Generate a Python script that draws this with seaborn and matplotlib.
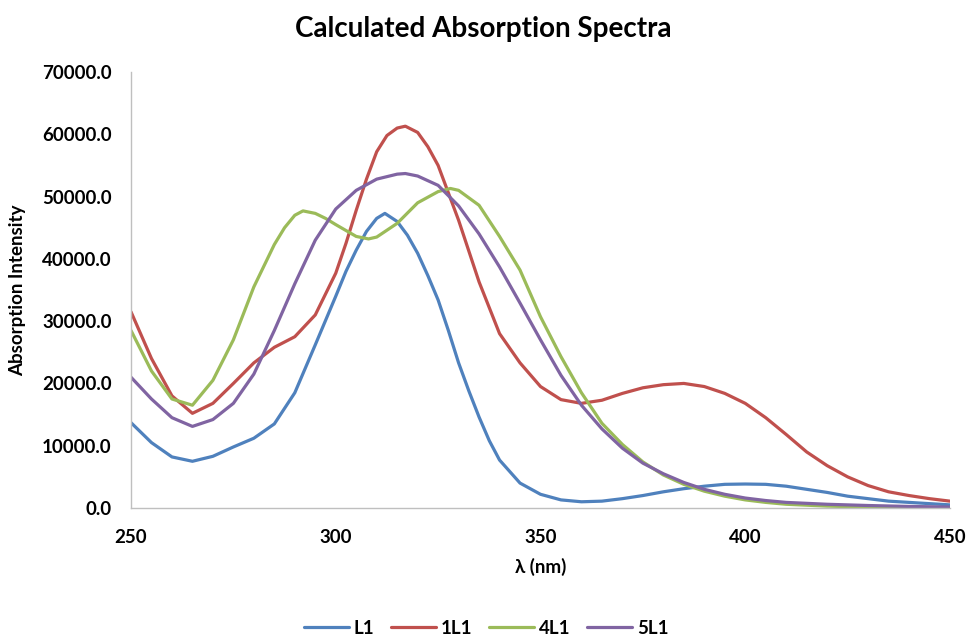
import matplotlib
matplotlib.use("Agg")
import matplotlib.pyplot as plt
from matplotlib.lines import Line2D
import seaborn as sns
import pandas as pd

# ---- data ----
series_names = ["L1", "1L1", "4L1", "5L1"]

x_L1 = [250, 255, 260, 265, 270, 275, 280, 285, 290, 295, 300, 302.5, 305, 307.5, 310, 312, 315, 317.5, 320, 322.5,
        325, 327.5, 330, 332.5, 335, 337.5, 340, 345, 350, 355, 360, 365, 370, 375, 380, 385, 390, 395, 400, 405,
        410, 415, 420, 425, 430, 435, 440, 445, 450]
y_L1 = [13.7, 10.5, 8.2, 7.5, 8.3, 9.8, 11.2, 13.5, 18.5, 26.2, 34.0, 38.0, 41.4, 44.4, 46.5, 47.3, 46.0, 43.8, 40.9, 37.3,
        33.4, 28.5, 23.3, 18.8, 14.6, 10.8, 7.7, 4.0, 2.2, 1.3, 1.0, 1.1, 1.5, 2.0, 2.6, 3.1, 3.5, 3.8, 3.85, 3.8,
        3.5, 3.0, 2.5, 1.9, 1.5, 1.1, 0.9, 0.7, 0.5]

x_1L1 = [250, 255, 260, 265, 270, 275, 280, 285, 290, 295, 300, 302.5, 305, 307.5, 310, 312.5, 315, 317, 320, 322.5,
         325, 330, 335, 340, 345, 350, 355, 360, 365, 370, 375, 380, 385, 390, 395, 400, 405, 410, 415, 420,
         425, 430, 435, 440, 445, 450]
y_1L1 = [31.5, 24.0, 18.0, 15.2, 16.8, 20.0, 23.3, 25.8, 27.5, 31.0, 37.7, 42.5, 47.8, 52.8, 57.2, 59.8, 61.0, 61.3, 60.3, 58.0,
         55.0, 46.2, 36.3, 28.0, 23.3, 19.5, 17.4, 16.8, 17.3, 18.4, 19.3, 19.8, 20.0, 19.5, 18.4, 16.8, 14.5, 11.8, 9.0, 6.8,
         5.0, 3.6, 2.6, 2.0, 1.5, 1.1]

x_4L1 = [250, 255, 260, 265, 270, 275, 280, 285, 287.5, 290, 292, 295, 297.5, 300, 305, 308, 310, 315, 320, 325,
         328, 330, 335, 340, 345, 350, 355, 360, 365, 370, 375, 380, 385, 390, 395, 400, 405, 410, 420, 430,
         440, 450]
y_4L1 = [28.5, 22.0, 17.5, 16.5, 20.5, 27.0, 35.5, 42.3, 45.0, 47.0, 47.7, 47.3, 46.5, 45.5, 43.6, 43.2, 43.5, 45.7, 49.0, 50.8,
         51.3, 51.0, 48.6, 43.6, 38.2, 30.7, 24.3, 18.5, 13.6, 10.2, 7.4, 5.3, 3.8, 2.7, 1.9, 1.3, 0.9, 0.6, 0.3, 0.15,
         0.1, 0.05]

x_5L1 = [250, 255, 260, 265, 270, 275, 280, 285, 290, 295, 300, 305, 310, 315, 317, 320, 325, 330, 335, 340,
         345, 350, 355, 360, 365, 370, 375, 380, 385, 390, 395, 400, 405, 410, 420, 430, 440, 450]
y_5L1 = [21.0, 17.5, 14.5, 13.1, 14.2, 16.8, 21.5, 28.5, 36.0, 43.0, 48.0, 51.0, 52.8, 53.6, 53.7, 53.3, 51.8, 48.5, 44.0, 38.7,
         32.9, 27.0, 21.3, 16.5, 12.7, 9.6, 7.2, 5.5, 4.1, 3.0, 2.2, 1.6, 1.2, 0.9, 0.6, 0.4, 0.25, 0.15]

x_ticks = [250, 300, 350, 400, 450]
y_ticks = [0, 10000, 20000, 30000, 40000, 50000, 60000, 70000]

colors = ["#4F81BD", "#C0504D", "#9BBB59", "#8064A2"]

frames = []
for name, xs, ys in zip(series_names, [x_L1, x_1L1, x_4L1, x_5L1], [y_L1, y_1L1, y_4L1, y_5L1]):
    frames.append(pd.DataFrame({"wl": xs, "val": [v * 1000 for v in ys], "series": name}))
df = pd.concat(frames, ignore_index=True)

# ---- style ----
sns.set_style("white")
plt.rcParams["font.family"] = ["Lato", "DejaVu Sans"]
plt.rcParams["text.color"] = "black"
plt.rcParams["axes.labelcolor"] = "black"
plt.rcParams["xtick.color"] = "black"
plt.rcParams["ytick.color"] = "black"

fig = plt.figure(figsize=(9.66, 6.37), dpi=100)
ax = fig.add_axes([131 / 966, 1 - 508 / 637, (950 - 131) / 966, (508 - 72) / 637])

sns.lineplot(data=df, x="wl", y="val", hue="series", hue_order=series_names,
             palette=colors, sort=False, linewidth=2.3, ax=ax, legend=False)
for ln in ax.get_lines():
    ln.set_solid_joinstyle("round")
    ln.set_solid_capstyle("round")

ax.set_xlim(250, 450)
ax.set_ylim(0, 70000)
ax.set_xticks(x_ticks)
ax.set_yticks(y_ticks)
ax.set_xticklabels([str(t) for t in x_ticks], fontsize=13.5, fontweight="bold")
ax.set_yticklabels([f"{t:.1f}" for t in y_ticks], fontsize=13.5, fontweight="bold")
ax.tick_params(axis="y", length=0, pad=14)
ax.tick_params(axis="x", length=0, pad=15)

for side in ["top", "right"]:
    ax.spines[side].set_visible(False)
for side in ["left", "bottom"]:
    ax.spines[side].set_color("#BFBFBF")
    ax.spines[side].set_linewidth(1.0)

ax.set_xlabel("λ (nm)", fontsize=13.5, fontweight="bold")
ax.set_ylabel("Absorption Intensity", fontsize=13.5, fontweight="bold")
ax.xaxis.set_label_coords(0.5, -(567 - 508) / 436, transform=ax.transAxes)
ax.xaxis.label.set_va("center")
ax.yaxis.set_label_coords((18 - 131) / 819, 0.5, transform=ax.transAxes)
ax.yaxis.label.set_va("center")

fig.text(0.5, 1 - 29 / 637, "Calculated Absorption Spectra", ha="center", va="center",
         fontsize=20, fontweight="bold")

handles = [Line2D([0], [0], color=c, lw=2.3) for c in colors]
fig.legend(handles, series_names, loc="center", bbox_to_anchor=(486 / 966, 1 - 628 / 637),
           ncol=4, frameon=False, prop={"size": 13.5, "weight": "bold"},
           handlelength=2.4, columnspacing=0.9, handletextpad=0.25)

fig.savefig("out.png", dpi=100)
